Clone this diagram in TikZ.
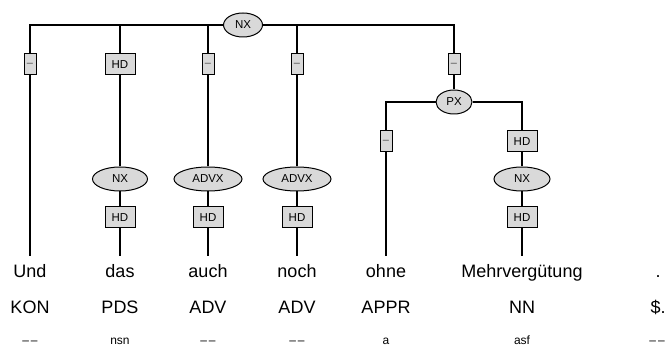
\documentclass[tikz,border=0pt]{standalone}
\usepackage{fontspec}
\setmainfont{Liberation Sans}
\usetikzlibrary{shapes.geometric}
\definecolor{catgray}{RGB}{217,217,217}
\newcommand{\dd}{\textendash\kern2pt\textendash}
\begin{document}
\begin{tikzpicture}[x=1pt,y=-1pt,
  edge/.style={line width=1.1pt, black},
  cat/.style={ellipse, draw, line width=1pt, fill=catgray, minimum height=24pt, inner sep=0pt, font=\fontsize{11.5}{12}\selectfont},
  fbox/.style={rectangle, draw, line width=1pt, fill=catgray, minimum width=30pt, minimum height=21pt, inner sep=0pt, font=\fontsize{11.5}{12}\selectfont},
  dbox/.style={fbox, minimum width=12pt, text=black!70, font=\fontsize{11}{12}\selectfont},
  word/.style={anchor=base, font=\fontsize{18}{20}\selectfont, inner sep=0pt},
  morph/.style={anchor=base, font=\fontsize{12}{13}\selectfont, inner sep=0pt}]
\useasboundingbox (0,0) rectangle (666,347);
% top
\node[cat, minimum width=39pt] (nx0) at (243,25) {NX};
\node[dbox] (d1) at (30,64.5) {\textendash};
\node[fbox] (h2) at (120,64.5) {HD};
\node[dbox] (d3) at (208,64.5) {\textendash};
\node[dbox] (d4) at (297,64.5) {\textendash};
\node[dbox] (d5) at (454,64.5) {\textendash};
% PX
\node[cat, minimum width=36pt] (px) at (454,102) {PX};
\node[dbox] (d6) at (386,141.5) {\textendash};
\node[fbox] (h7) at (522,141.5) {HD};
% lower phrases
\node[cat, minimum width=55pt] (nx2) at (120,179) {NX};
\node[cat, minimum width=68pt] (ax3) at (208,179) {ADVX};
\node[cat, minimum width=68pt] (ax4) at (297,179) {ADVX};
\node[cat, minimum width=56pt] (nx7) at (522,179) {NX};
\node[fbox] (h2b) at (120,217.5) {HD};
\node[fbox] (h3b) at (208,217.5) {HD};
\node[fbox] (h4b) at (297,217.5) {HD};
\node[fbox] (h7b) at (522,217.5) {HD};
% line ends
\coordinate (e1) at (30,256);
\coordinate (e2) at (120,256);
\coordinate (e3) at (208,256);
\coordinate (e4) at (297,256);
\coordinate (e5) at (386,256);
\coordinate (e6) at (522,256);
% words
\node[word] (w1) at (30,277) {Und};
\node[word] (w2) at (120,277) {das};
\node[word] (w3) at (208,277) {auch};
\node[word] (w4) at (297,277) {noch};
\node[word] (w5) at (386,277) {ohne};
\node[word] (w6) at (522,277) {Mehrvergütung};
\node[word] (w7) at (658,277) {.};
% tags
\node[word] (t1) at (30,313) {KON};
\node[word] (t2) at (120,313) {PDS};
\node[word] (t3) at (208,313) {ADV};
\node[word] (t4) at (297,313) {ADV};
\node[word] (t5) at (386,313) {APPR};
\node[word] (t6) at (522,313) {NN};
\node[word] (t7) at (658,313) {\$.};
% morphology
\node[morph] (m1) at (30,344) {\dd};
\node[morph] (m2) at (120,344) {nsn};
\node[morph] (m3) at (208,344) {\dd};
\node[morph] (m4) at (297,344) {\dd};
\node[morph] (m5) at (386,344) {a};
\node[morph] (m6) at (522,344) {asf};
\node[morph] (m7) at (657,344) {\dd};
% edges
\draw[edge] (nx0) -| (d1);
\draw[edge] (nx0) -| (h2);
\draw[edge] (nx0) -| (d3);
\draw[edge] (nx0) -| (d4);
\draw[edge] (nx0) -| (d5);
\draw[edge] (d1) -- (e1);
\draw[edge] (h2) -- (nx2);
\draw[edge] (nx2) -- (h2b);
\draw[edge] (h2b) -- (e2);
\draw[edge] (d3) -- (ax3);
\draw[edge] (ax3) -- (h3b);
\draw[edge] (h3b) -- (e3);
\draw[edge] (d4) -- (ax4);
\draw[edge] (ax4) -- (h4b);
\draw[edge] (h4b) -- (e4);
\draw[edge] (d5) -- (px);
\draw[edge] (px) -| (d6);
\draw[edge] (px) -| (h7);
\draw[edge] (d6) -- (e5);
\draw[edge] (h7) -- (nx7);
\draw[edge] (nx7) -- (h7b);
\draw[edge] (h7b) -- (e6);
\end{tikzpicture}
\end{document}
